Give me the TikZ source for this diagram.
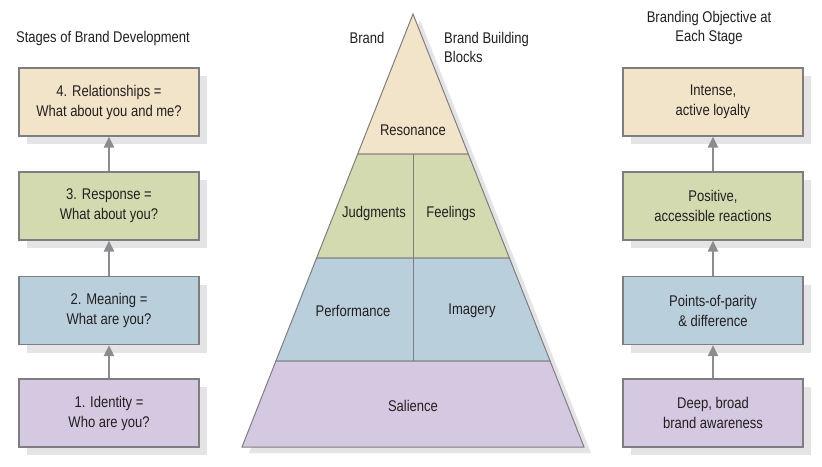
\documentclass[tikz,border=0pt]{standalone}
\usepackage{fontspec}
\setmainfont{Liberation Sans}[FakeStretch=0.84]
\usetikzlibrary{shadows,arrows.meta}
\definecolor{tan}{HTML}{F2E4C8}
\definecolor{grn}{HTML}{D3DAB0}
\definecolor{blu}{HTML}{B9CFDC}
\definecolor{pur}{HTML}{D4C9E1}
\definecolor{shd}{HTML}{E4E4E6}
\definecolor{edge}{HTML}{7E7E80}
\definecolor{txt}{HTML}{231F20}
\definecolor{arr}{HTML}{8C8C8E}
\tikzset{
  stagebox/.style={draw=edge, line width=1.1pt, minimum width=180pt, minimum height=68pt,
    align=center, text=txt, font=\fontsize{15.5}{20}\selectfont, inner sep=0pt,
    drop shadow={shadow xshift=8pt, shadow yshift=-8pt, fill=shd, opacity=1}},
  uparrow/.style={draw=arr, line width=2.4pt, -{Triangle[length=11pt,width=10pt]}},
  lbl/.style={text=txt, font=\fontsize{15.5}{19}\selectfont, inner sep=0pt},
  band/.style={draw=edge, line width=1pt},
}
\begin{document}
\begin{tikzpicture}[x=1pt,y=-1pt]
\useasboundingbox[fill=white] (0,0) rectangle (822,466);
% headings
\node[lbl] (h1) at (103,38) {Stages of Brand Development};
\node[lbl] (h2) at (367,38) {Brand};
\node[lbl, align=left, anchor=west] (h3) at (444,47) {Brand Building\\Blocks};
\node[lbl, align=center] (h4) at (709,28) {Branding Objective at\\Each Stage};
% left boxes
\node[stagebox, fill=tan] (l4) at (109,102) {4. Relationships =\\What about you and me?};
\node[stagebox, fill=grn] (l3) at (109,206) {3. Response =\\What about you?};
\node[stagebox, fill=blu] (l2) at (109,310.5) {2. Meaning =\\What are you?};
\node[stagebox, fill=pur] (l1) at (109,413) {1. Identity =\\Who are you?};
% right boxes
\node[stagebox, fill=tan] (r4) at (713,102) {Intense,\\active loyalty};
\node[stagebox, fill=grn] (r3) at (713,206) {Positive,\\accessible reactions};
\node[stagebox, fill=blu] (r2) at (713,310.5) {Points-of-parity\\\& difference};
\node[stagebox, fill=pur] (r1) at (713,413) {Deep, broad\\brand awareness};
% arrows
\draw[uparrow] (l1.north) -- (l2.south);
\draw[uparrow] (l2.north) -- (l3.south);
\draw[uparrow] (l3.north) -- (l4.south);
\draw[uparrow] (r1.north) -- (r2.south);
\draw[uparrow] (r2.north) -- (r3.south);
\draw[uparrow] (r3.north) -- (r4.south);
% pyramid shadow
\fill[shd] (420,20) -- (591,453) -- (249,453) -- cycle;
% pyramid bands
\filldraw[band, fill=tan] (413,14) -- (468.3,154) -- (357.7,154) -- cycle;
\filldraw[band, fill=grn] (357.7,154) -- (468.3,154) -- (509.4,258) -- (316.6,258) -- cycle;
\filldraw[band, fill=blu] (316.6,258) -- (509.4,258) -- (550.1,361) -- (275.9,361) -- cycle;
\filldraw[band, fill=pur] (275.9,361) -- (550.1,361) -- (584,447) -- (242,447) -- cycle;
\draw[band] (413,154) -- (413,361);
% pyramid labels
\node[lbl] (p1) at (413,130) {Resonance};
\node[lbl] (p2) at (374,213) {Judgments};
\node[lbl] (p3) at (451,213) {Feelings};
\node[lbl] (p4) at (353,311) {Performance};
\node[lbl] (p5) at (472,311) {Imagery};
\node[lbl] (p6) at (413,406) {Salience};
\end{tikzpicture}
\end{document}
